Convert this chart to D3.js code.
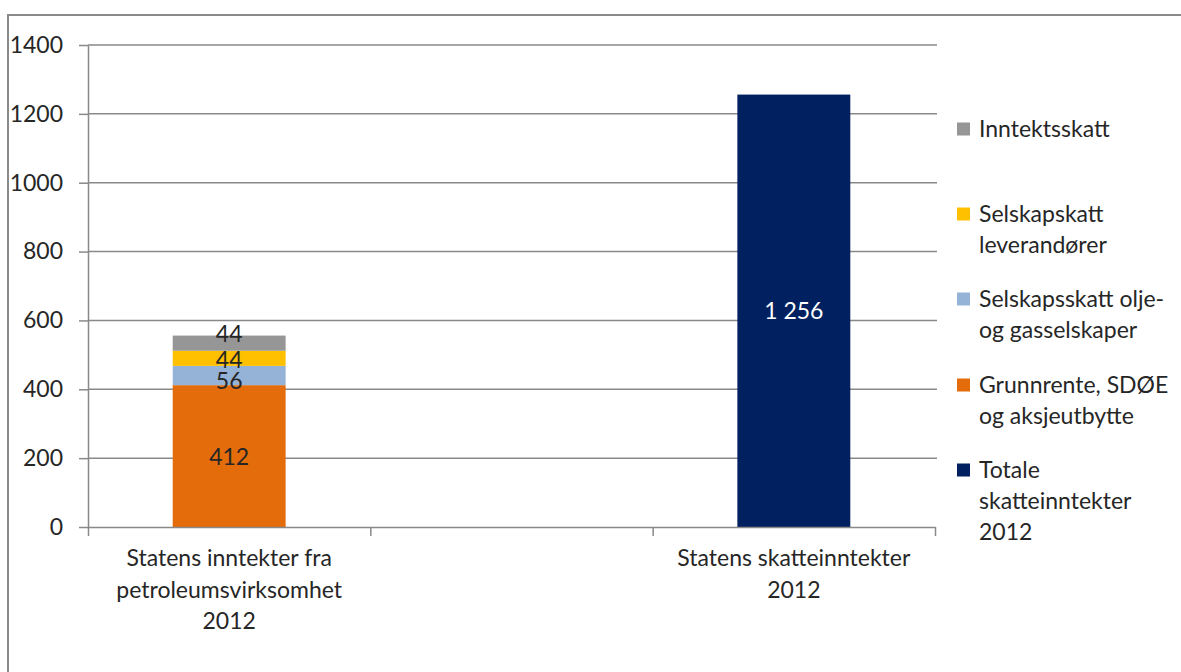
<!DOCTYPE html>
<html><head><meta charset="utf-8">
<script src="https://cdn.jsdelivr.net/npm/d3@7"></script>
<style>
body{margin:0;background:#fff;}
text{font-family:Lato,"Open Sans",sans-serif;fill:#262626;}
</style></head>
<body><svg id="chart" width="1181" height="672"></svg>
<script>
// ---- data ----
const categories = ["petro", "blank", "skatt"];
const categoryLabels = [
  ["Statens inntekter fra", "petroleumsvirksomhet", "2012"],
  [],
  ["Statens skatteinntekter", "2012"]
];
const seriesNames = ["grunnrente", "olje", "leverandorer", "inntekt", "totale"];
const legendLabels = [
  ["Inntektsskatt"],
  ["Selskapskatt", "leverandører"],
  ["Selskapsskatt olje-", "og gasselskaper"],
  ["Grunnrente, SDØE", "og aksjeutbytte"],
  ["Totale", "skatteinntekter", "2012"]
];
const legendKeys = ["inntekt", "leverandorer", "olje", "grunnrente", "totale"];
const grunnrente   = [412, 0, 0];
const olje         = [56, 0, 0];
const leverandorer = [44, 0, 0];
const inntekt      = [44, 0, 0];
const totale       = [0, 0, 1256];
const yTicks = [0, 200, 400, 600, 800, 1000, 1200, 1400];

// ---- styling ----
const colors = {grunnrente:"#E46C0A", olje:"#95B3D7", leverandorer:"#FFC000", inntekt:"#969696", totale:"#002060"};
const labelColors = {grunnrente:"#262626", olje:"#262626", leverandorer:"#262626", inntekt:"#262626", totale:"#ffffff"};
const labelNudge = {grunnrente:1, olje:5, leverandorer:1, inntekt:-9, totale:0};
const gridColor = "#898989";
const fontSize = 23;

const svg = d3.select("#chart");
const plotLeft = 88, plotRight = 935, plotTop = 45, plotBottom = 527;

// outer frame
svg.append("path").attr("d", `M8,672 V15 H1181`).attr("fill","none").attr("stroke","#8a8a8a").attr("stroke-width",2);

const rows = categories.map((c,i)=>({cat:c, grunnrente:grunnrente[i], olje:olje[i], leverandorer:leverandorer[i], inntekt:inntekt[i], totale:totale[i]}));
const stacked = d3.stack().keys(seriesNames)(rows);

const y = d3.scaleLinear().domain([0,1400]).range([plotBottom, plotTop]);
const x = d3.scaleBand().domain(categories).range([plotLeft, plotRight]).paddingInner(0.6).paddingOuter(0.3);
const xEdge = d3.scaleLinear().domain([0, categories.length]).range([plotLeft, plotRight]);

// gridlines
svg.append("g").selectAll("line").data(yTicks.filter(d=>d>0)).join("line")
  .attr("x1", plotLeft).attr("x2", plotRight+2).attr("y1", d=>y(d)).attr("y2", d=>y(d))
  .attr("stroke", gridColor).attr("stroke-width", 1.5);

// bars
const g = svg.append("g");
stacked.forEach(layer=>{
  g.append("g").selectAll("rect").data(layer.filter(d=>d[1]-d[0]>0)).join("rect")
    .attr("x", d=>x(d.data.cat)).attr("width", x.bandwidth())
    .attr("y", d=>y(d[1])).attr("height", d=>y(d[0])-y(d[1]))
    .attr("fill", colors[layer.key]);
});

// data labels
const fmt = d3.formatLocale({decimal:",", thousands:"\u00a0", grouping:[3], currency:["",""]}).format(",d");
stacked.forEach(layer=>{
  layer.forEach(d=>{
    const v = d[1]-d[0];
    if (v<=0) return;
    const cy = (y(d[0])+y(d[1]))/2 + labelNudge[layer.key];
    g.append("text").attr("x", x(d.data.cat)+x.bandwidth()/2).attr("y", cy)
      .attr("dy","0.36em").attr("text-anchor","middle").attr("font-size", fontSize)
      .style("fill", labelColors[layer.key]).text(fmt(v));
  });
});

// y axis
const yAxis = svg.append("g").attr("transform", `translate(${plotLeft},0)`)
  .call(d3.axisLeft(y).tickValues(yTicks).tickFormat(d3.format("d")).tickSize(9).tickPadding(16).tickSizeOuter(0));
yAxis.select(".domain").attr("stroke", gridColor).attr("stroke-width",1.5);
yAxis.selectAll(".tick line").attr("stroke", gridColor).attr("stroke-width",1.5);
yAxis.selectAll(".tick text").attr("font-size", fontSize).attr("font-family","Lato").style("fill","#262626");

// x axis
const xAxis = svg.append("g").attr("transform", `translate(0,${plotBottom})`)
  .call(d3.axisBottom(xEdge).tickValues(d3.range(categories.length+1)).tickSize(9).tickFormat("").tickSizeOuter(0));
xAxis.select(".domain").attr("stroke", gridColor).attr("stroke-width",1.5);
xAxis.selectAll(".tick line").attr("stroke", gridColor).attr("stroke-width",1.5);

// category labels
categories.forEach((c,i)=>{
  const t = svg.append("text").attr("text-anchor","middle").attr("font-size", fontSize);
  categoryLabels[i].forEach((line,j)=>{
    t.append("tspan").attr("x", x(c)+x.bandwidth()/2).attr("y", 558 + j*31.5).attr("dy","0.36em").text(line);
  });
});

// legend
const legendY = [129, 214, 299, 385, 470];
legendKeys.forEach((k,i)=>{
  svg.append("rect").attr("x", 957).attr("y", legendY[i]-6.5).attr("width",13).attr("height",13).attr("fill", colors[k]);
  const t = svg.append("text").attr("font-size", fontSize);
  legendLabels[i].forEach((line,j)=>{
    t.append("tspan").attr("x", 979).attr("y", legendY[i]+j*31).attr("dy","0.36em").text(line);
  });
});
</script></body></html>
